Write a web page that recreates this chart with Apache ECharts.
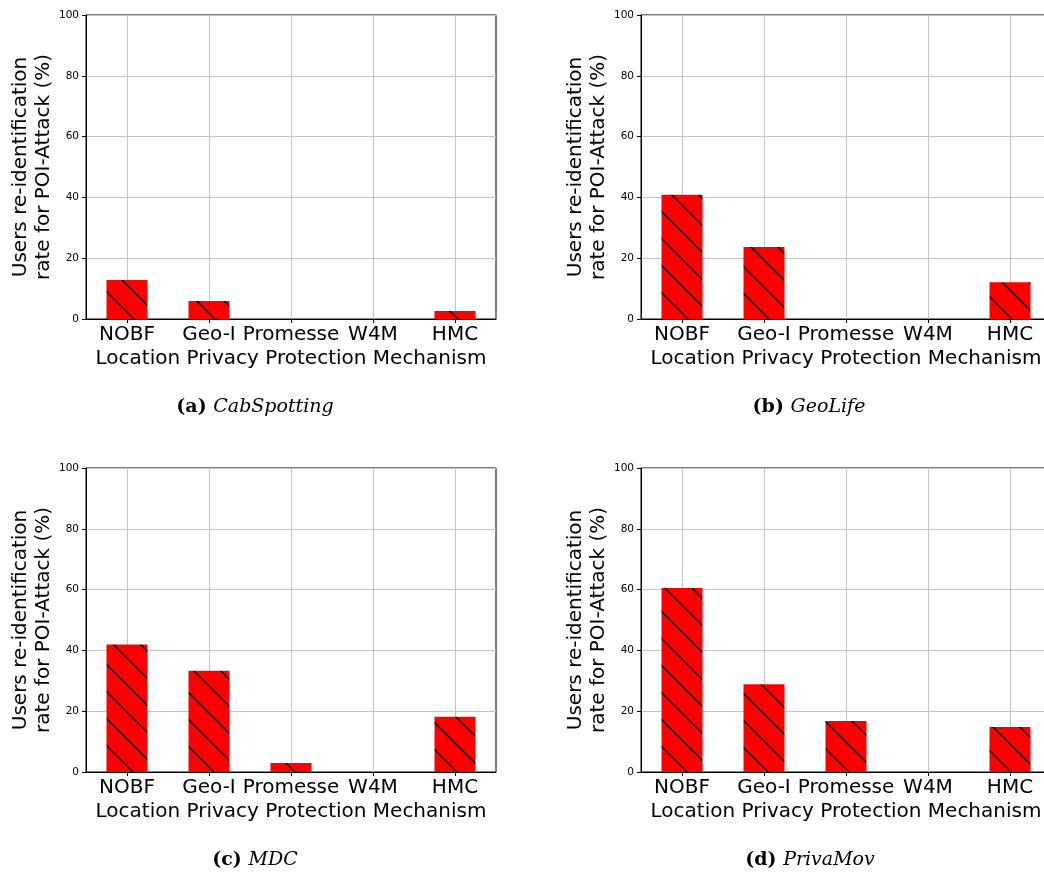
<!DOCTYPE html>
<html>
<head>
<meta charset="utf-8">
<script src="https://cdn.jsdelivr.net/npm/echarts@6/dist/echarts.min.js"></script>
<style>
html,body{margin:0;padding:0;background:#fff;}
#chart{width:1044px;height:874px;}
</style>
</head>
<body>
<div id="chart"></div>
<script>
const categories = ['NOBF', 'Geo-I', 'Promesse', 'W4M', 'HMC'];
const cabSpotting = [12.8, 5.9, 0, 0, 2.6];
const geoLife = [40.9, 23.7, 0, 0, 12.1];
const mdc = [41.9, 33.3, 3.0, 0, 18.2];
const privaMov = [60.5, 28.9, 16.8, 0, 14.8];
const yMin = 0, yMax = 100, yInterval = 20;
const yAxisLabel = 'Users re-identification\nrate for POI-Attack (%)';
const xAxisLabel = 'Location Privacy Protection Mechanism';
const captionLetters = ['(a)', '(b)', '(c)', '(d)'];
const captionNames = ['CabSpotting', 'GeoLife', 'MDC', 'PrivaMov'];

const panels = [cabSpotting, geoLife, mdc, privaMov];
const gridBoxes = [
  {left: 86, top: 15}, {left: 641, top: 15},
  {left: 86, top: 468}, {left: 641, top: 468}
];
const captionPos = [[255, 407], [809, 407], [255, 860], [810, 860]];
const hatchPhase = [23, 9, 18, 4];

// hatch pattern "\\"
function makeHatch(phase) {
  const tile = 27;
  const pc = document.createElement('canvas');
  pc.width = tile; pc.height = tile;
  const ctx = pc.getContext('2d');
  ctx.fillStyle = '#ff0000';
  ctx.fillRect(0, 0, tile, tile);
  ctx.strokeStyle = '#000000';
  ctx.lineWidth = 1.4;
  for (let k = -2; k <= 2; k++) {
    const off = phase + k * tile;
    ctx.beginPath();
    ctx.moveTo(-3, -3 + off);
    ctx.lineTo(tile + 3, tile + 3 + off);
    ctx.stroke();
  }
  return pc;
}

const sansFont = 'DejaVu Sans';
const grids = [], xAxes = [], yAxes = [], series = [], graphics = [];
panels.forEach((vals, i) => {
  grids.push(Object.assign({width: 410, height: 304, outerBoundsMode: 'none',
    show: true, borderColor: '#000', borderWidth: 1, backgroundColor: 'transparent', containLabel: false}, gridBoxes[i]));
  xAxes.push({
    type: 'category', gridIndex: i, data: categories, boundaryGap: true,
    name: xAxisLabel, nameLocation: 'middle', nameGap: 30,
    nameTextStyle: {fontFamily: sansFont, fontSize: 20, color: '#000'},
    axisLine: {show: true, lineStyle: {color: '#000', width: 1}},
    axisTick: {show: true, alignWithLabel: true, length: 4, inside: false, lineStyle: {color: '#000'}},
    axisLabel: {fontFamily: sansFont, fontSize: 20, color: '#000', margin: 6, interval: 0},
    splitLine: {show: true, alignWithLabel: true, lineStyle: {color: '#c4c4c4', width: 1}}
  });
  yAxes.push({
    type: 'value', gridIndex: i, min: yMin, max: yMax, interval: yInterval,
    name: yAxisLabel, nameLocation: 'middle', nameGap: 31, nameRotate: 90,
    nameTextStyle: {fontFamily: sansFont, fontSize: 20, color: '#000', lineHeight: 23},
    axisLine: {show: true, lineStyle: {color: '#000', width: 1}},
    axisTick: {show: true, length: 4, lineStyle: {color: '#000'}},
    axisLabel: {fontFamily: sansFont, fontSize: 10.5, color: '#000', margin: 7},
    splitLine: {show: true, lineStyle: {color: '#c4c4c4', width: 1}}
  });
  series.push({
    type: 'bar', xAxisIndex: i, yAxisIndex: i, data: vals, barWidth: '50%',
    itemStyle: {color: {image: makeHatch(hatchPhase[i]), repeat: 'repeat'}},
    silent: true, animation: false
  });
  graphics.push({
    type: 'text', x: captionPos[i][0], y: captionPos[i][1],
    style: {
      text: '{b|' + captionLetters[i] + '}  {n|' + captionNames[i] + '}',
      align: 'center', verticalAlign: 'middle',
      rich: {
        b: {fontFamily: 'DejaVu Serif', fontWeight: 'bold', fontSize: 19, fill: '#000'},
        n: {fontFamily: 'DejaVu Serif', fontStyle: 'italic', fontSize: 19, fill: '#000'}
      }
    }
  });
});

const chart = echarts.init(document.getElementById('chart'), null, {renderer: 'canvas'});
chart.setOption({
  animation: false,
  backgroundColor: '#fff',
  grid: grids, xAxis: xAxes, yAxis: yAxes, series: series,
  graphic: graphics
});
</script>
</body>
</html>
